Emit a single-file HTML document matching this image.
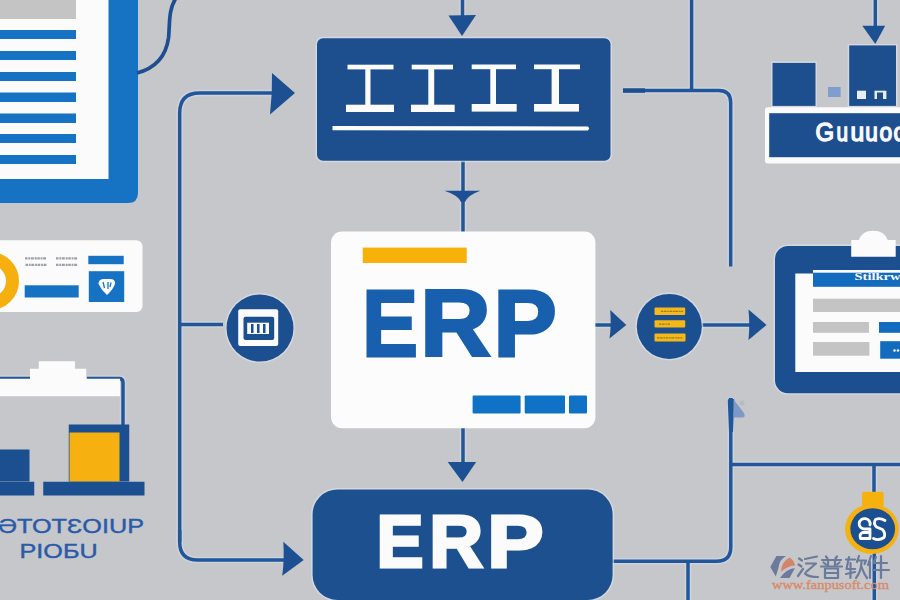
<!DOCTYPE html>
<html><head><meta charset="utf-8"><title>ERP</title>
<style>
html,body{margin:0;padding:0;width:900px;height:600px;overflow:hidden;background:#c5c7cb;}
svg{display:block;font-family:"Liberation Sans",sans-serif;}
</style></head><body>
<svg width="900" height="600" viewBox="0 0 900 600">
<rect x="0" y="0" width="900" height="600" fill="#c5c7cb"/>

<!-- ===== top-left document ===== -->
<path d="M-10,-10 H138 V193 Q138,203 128,203 H-10 Z" fill="#1673c4"/>
<rect x="-5" y="-5" width="113.5" height="184" fill="#fbfbfb"/>
<rect x="-5" y="-5" width="81" height="24" fill="#c4c4c5"/>
<g fill="#1673c4">
<rect x="-5" y="30" width="81" height="9"/>
<rect x="-5" y="51" width="81" height="9"/>
<rect x="-5" y="72" width="81" height="9"/>
<rect x="-5" y="92.5" width="81" height="9.5"/>
<rect x="-5" y="113.5" width="81" height="9.5"/>
<rect x="-5" y="134" width="81" height="9"/>
<rect x="-5" y="155" width="81" height="9"/>
</g>
<path d="M137,73 C156,68 166,56 168.5,38 C170,25 168,10 176,-2" fill="none" stroke="#1d4f90" stroke-width="3.7"/>

<!-- ===== connector lines ===== -->
<g fill="none" stroke="#d3d9e1" stroke-width="6.5" opacity="0.7">
<!-- left big loop -->
<path d="M179.7,542 V113 Q179.7,93 199.7,93 H272"/>
<path d="M179.7,530 V542 Q179.7,560 197.7,560 H285"/>
<path d="M180,324.6 H223"/>
<!-- center vertical -->
<path d="M462.5,-2 V18"/>
<path d="M463,161 V195"/>
<path d="M463,195 V232"/>
<path d="M463,428 V465"/>
<!-- right of card -->
<path d="M595,325 H612"/>
<path d="M702,325 H750"/>
<!-- right network -->
<path d="M691.6,-2 V90.5"/>
<path d="M623,90.5 H718.7 Q730.7,90.5 730.7,102.5 V266.5"/>
<path d="M875.3,-2 V27"/>
<path d="M730.8,398 V547 Q730.8,561.3 716.5,561.3 H612"/>
<path d="M731,464.5 H905"/>
<path d="M874,464 V492"/>
<path d="M688,561 V605"/>
<path d="M874.3,550 V605"/>
<!-- bottom-left white shape lines -->
<path d="M-5,378.5 H30"/>
<path d="M87,378.5 H119 Q123,378.5 123,382.5 V426"/>
</g>
<g fill="none" stroke="#21569a" stroke-width="3.5">
<!-- left big loop -->
<path d="M179.7,542 V113 Q179.7,93 199.7,93 H272"/>
<path d="M179.7,530 V542 Q179.7,560 197.7,560 H285"/>
<path d="M180,324.6 H223"/>
<!-- center vertical -->
<path d="M462.5,-2 V18"/>
<path d="M463,161 V195"/>
<path d="M463,195 V232"/>
<path d="M463,428 V465"/>
<!-- right of card -->
<path d="M595,325 H612"/>
<path d="M702,325 H750"/>
<!-- right network -->
<path d="M691.6,-2 V90.5"/>
<path d="M623,90.5 H718.7 Q730.7,90.5 730.7,102.5 V266.5"/>
<path d="M875.3,-2 V27"/>
<path d="M730.8,398 V547 Q730.8,561.3 716.5,561.3 H612"/>
<path d="M731,464.5 H905"/>
<path d="M874,464 V492"/>
<path d="M688,561 V605"/>
<path d="M874.3,550 V605"/>
<!-- bottom-left white shape lines -->
<path d="M-5,378.5 H30"/>
<path d="M87,378.5 H119 Q123,378.5 123,382.5 V426"/>
</g>
<path d="M623,88.3 H645 V92.8 H623 Z" fill="#1d4f90"/>

<!-- arrowheads -->
<g fill="#1d5092">
<path d="M272,73 L295,93 L270,114.4 Q272.5,93 272,73 Z"/>
<path d="M448.5,15.5 L476,15 L462,36 Z"/>
<path d="M444.4,190.7 L480.4,190.7 Q468,195 465,202 L461,202 Q458,195 444.4,190.7 Z"/>
<path d="M447.7,462 L476.2,462 L462.5,482 Z"/>
<path d="M283.3,541.7 L303.7,560 L282.2,575.8 Q284.5,560 283.3,541.7 Z"/>
<path d="M610.2,310 L626.3,325 L609.5,338.5 Q611.5,325 610.2,310 Z"/>
<path d="M748.5,309.4 L766.5,325 L748.5,340 Q750,325 748.5,309.4 Z"/>
<path d="M862.3,25.7 L885.2,25.7 L875.3,44 Z"/>
</g>

<!-- ===== top center box ===== -->
<rect x="317" y="38.2" width="293.5" height="122.5" rx="6" fill="#1d4f8e" stroke="#dde2e9" stroke-opacity="0.65" stroke-width="3" paint-order="stroke"/>
<g fill="#fbfbfb">
<!-- I 1 -->
<rect x="347.5" y="64.7" width="46" height="4.7"/><rect x="365.3" y="67" width="5.2" height="39"/><rect x="346" y="104.7" width="48" height="7.3"/>
<rect x="411.7" y="64.7" width="41.3" height="4.7"/><rect x="428.3" y="67" width="5.9" height="39"/><rect x="411" y="104.7" width="43.7" height="7.3"/>
<rect x="471.7" y="64.5" width="44.3" height="4.7"/><rect x="490.3" y="67" width="5.7" height="39"/><rect x="471.7" y="104" width="45" height="7.6"/>
<rect x="534" y="64.5" width="46" height="4.7"/><rect x="551.6" y="67" width="7.4" height="39"/><rect x="534" y="104" width="45" height="7.6"/>
</g>
<path d="M332.5,126 L588,126.5 Q590,128.2 588,130.5 L332.5,130.3 Z" fill="#fbfbfb"/>

<!-- ===== white ERP card ===== -->
<rect x="331" y="231.6" width="264.4" height="196.7" rx="11" fill="#fcfcfc"/>
<rect x="362.7" y="247.6" width="104" height="15.4" fill="#f8b00a"/>
<g font-size="95.4" font-weight="bold" fill="#1860ad" stroke="#1860ad" stroke-width="3">
<text transform="translate(362.2,356.3) scale(0.874,1)">E</text>
<text transform="translate(420.2,356.3) scale(1.022,1)">R</text>
<text transform="translate(493.4,356.3) scale(0.993,1)">P</text>
</g>
<g fill="#0f72c6">
<rect x="472.6" y="395.4" width="48" height="18.2" rx="1"/>
<rect x="524.7" y="395.4" width="40.3" height="18.2" rx="1"/>
<rect x="569" y="395.4" width="18" height="18.2" rx="1"/>
</g>

<!-- ===== bottom ERP button ===== -->
<rect x="312.6" y="489.4" width="300" height="110.6" rx="25" fill="#1d508f" stroke="#dde2e9" stroke-opacity="0.65" stroke-width="3" paint-order="stroke"/>
<g font-size="73.9" font-weight="bold" fill="#fbfbfb" stroke="#fbfbfb" stroke-width="3">
<text transform="translate(376.5,566.5) scale(0.955,1)">E</text>
<text transform="translate(429.3,566.5) scale(1.009,1)">R</text>
<text transform="translate(487.3,566.5) scale(1.142,1)">P</text>
</g>

<!-- ===== left circle icon ===== -->
<circle cx="260" cy="328" r="33.5" fill="#1c4f90" stroke="#dde2e9" stroke-opacity="0.65" stroke-width="3" paint-order="stroke"/>
<rect x="238.2" y="309.2" width="40" height="36.8" rx="2" fill="#fbfbfb"/>
<rect x="243.5" y="316.7" width="30.7" height="23.3" rx="2" fill="#1c4f90"/>
<rect x="247.2" y="322.7" width="21.8" height="11.3" fill="#fbfbfb"/>
<g fill="#1c4f90"><rect x="251" y="324" width="2.5" height="9"/><rect x="257" y="324" width="2.5" height="9"/><rect x="263" y="324" width="2.5" height="9"/></g>

<!-- ===== yellow bars circle ===== -->
<circle cx="669.3" cy="326.4" r="32.5" fill="#1c4f90" stroke="#dde2e9" stroke-opacity="0.65" stroke-width="3" paint-order="stroke"/>
<g fill="#f4b81a">
<rect x="654.5" y="307.5" width="30.7" height="7.5" rx="1"/>
<rect x="654.5" y="320.2" width="30.7" height="7.2" rx="1"/>
<rect x="654.5" y="333.5" width="31" height="8" rx="1"/>
</g>
<g stroke="#5a4a22" stroke-width="1.2" opacity="0.55" stroke-dasharray="2 0.6 3 0.8 1.5 0.6 2.5 0.7">
<path d="M661,311.3 H683"/><path d="M659,324.2 H670"/><path d="M657,337.8 H683"/>
</g>

<!-- ===== top-right buildings ===== -->
<rect x="772.5" y="62.9" width="43" height="43" fill="#1d4f8e" stroke="#dde2e9" stroke-opacity="0.65" stroke-width="3" paint-order="stroke"/>
<rect x="828" y="87" width="12.6" height="10" fill="#7f9ed0"/>
<rect x="849.2" y="45.4" width="46.8" height="60.5" fill="#1d4f8e" stroke="#dde2e9" stroke-opacity="0.65" stroke-width="3" paint-order="stroke"/>
<rect x="857" y="90.7" width="9" height="8.3" fill="#e8eef5"/>
<rect x="874.5" y="90.7" width="11.9" height="8.3" fill="#e8eef5"/>
<rect x="877" y="92.5" width="6" height="6.5" fill="#1d4f8e"/>
<rect x="765" y="107.3" width="145" height="56.3" rx="3" fill="#fbfbfb"/>
<rect x="769.2" y="113.2" width="140" height="44" fill="#1d4f8e"/>
<g font-size="26" fill="#fbfbfb" stroke="#fbfbfb" stroke-width="1.4">
<text transform="translate(815.5,141) scale(0.92,1)">G</text>
<text transform="translate(836.6,141) scale(0.8,1)">u</text>
<text transform="translate(850.6,141) scale(0.95,1)">u</text>
<text transform="translate(865.2,141) scale(0.87,1)">u</text>
<text transform="translate(879.4,141) scale(0.88,1)">o</text>
<text transform="translate(893.6,141) scale(0.9,1)">c</text>
</g>

<!-- ===== clipboard ===== -->
<rect x="775" y="246" width="145" height="147.3" rx="13" fill="#1c4f90" stroke="#dde2e9" stroke-opacity="0.65" stroke-width="3" paint-order="stroke"/>
<rect x="795.3" y="273.5" width="120" height="98.5" fill="#fbfbfb"/>
<rect x="813" y="270" width="90" height="3" fill="#fbfbfb"/>
<rect x="813" y="272.7" width="90" height="14.1" fill="#126bbd"/>
<text x="854.5" y="280" font-size="10.5" font-family="Liberation Serif" font-weight="bold" fill="#fbfbfb" textLength="46" lengthAdjust="spacingAndGlyphs">Stilkrw</text>
<rect x="813" y="298.7" width="90" height="13.3" fill="#c4c4c5"/>
<rect x="813" y="322" width="56" height="10.8" fill="#c4c4c5"/>
<rect x="813" y="342" width="56.4" height="13.7" fill="#c4c4c5"/>
<rect x="879" y="322" width="25" height="10.8" fill="#126bbd"/>
<rect x="880.2" y="341.2" width="25" height="17.5" fill="#126bbd"/>
<circle cx="894.5" cy="350.5" r="1.3" fill="#fbfbfb"/><circle cx="898" cy="350.5" r="1.3" fill="#fbfbfb"/>
<path d="M851.2,240 H858.8 Q862,230.8 873,230.8 Q884.5,230.8 887.7,240 H895.7 V256.8 H851.2 Z" fill="#fbfbfb"/>

<!-- ===== left white card ===== -->
<rect x="-10" y="240.3" width="152.5" height="71.7" rx="6" fill="#fbfbfb"/>
<circle cx="-10" cy="281" r="22.5" fill="none" stroke="#f5b010" stroke-width="13"/>
<rect x="24.7" y="285.3" width="54" height="12.2" fill="#1673c4"/>
<rect x="88.3" y="255.8" width="35.4" height="8.4" fill="#1673c4"/>
<rect x="88.8" y="271.2" width="35.4" height="30.8" fill="#1673c4"/>
<path d="M98.5,284 Q98.5,279 104,279 H110 Q115.5,279 115,284 Q113,289.5 107,295 Q101,289.5 98.5,284 Z" fill="#fbfbfb"/>
<path d="M103,282 L104.5,288 M108,282 V289 M111,282.5 L110,287" stroke="#1673c4" stroke-width="1.3" fill="none"/>
<g stroke="#9da0a6" stroke-width="2.2" fill="none" stroke-dasharray="2.5 0.8 1.8 0.7 3 0.9 2 0.6">
<path d="M25,258.3 H46"/><path d="M25.5,264.8 H46.5"/>
<path d="M56,258.3 H78"/><path d="M56,264.8 H78"/>
</g>

<!-- ===== bottom-left factory ===== -->
<path d="M-5,378.75 H30 V368.75 H38.75 V361.25 H75 V368.75 H86.25 V378.75 H120 V396.25 H-5 Z" fill="#fbfbfb"/>
<rect x="68.75" y="424.5" width="60.5" height="57" fill="#1c4f90"/>
<rect x="69.5" y="432.5" width="50" height="49" fill="#f6b111"/>
<rect x="-5" y="449.5" width="34.5" height="32" fill="#1c4f90"/>
<rect x="-5" y="481.75" width="39.25" height="13.75" fill="#1c4f90"/>
<rect x="43.25" y="481.75" width="101.25" height="13.75" fill="#1c4f90"/>
<text x="-2" y="533.4" font-size="21" fill="#2a5aa8" stroke="#2a5aa8" stroke-width="0.4" textLength="146" lengthAdjust="spacingAndGlyphs">ƏTOTƐOIUP</text>
<text x="19.6" y="558.3" font-size="20" fill="#2a5aa8" stroke="#2a5aa8" stroke-width="0.4" textLength="78" lengthAdjust="spacingAndGlyphs">PIOБU</text>

<!-- flag -->
<path d="M727.8,401 Q728,397.5 731.5,398 L734.3,399.5 L733,432 H729 Z" fill="#21569a"/>
<path d="M733.5,399.5 L744,413 Q746,417.5 742,417.5 H733.5 Z" fill="#7f98c6"/>
<circle cx="742" cy="403" r="2.5" fill="#b5bcc8"/>

<!-- ===== yellow ornament ===== -->
<rect x="862" y="491.8" width="21.6" height="16" rx="2" fill="#f5b20f"/>
<ellipse cx="871.9" cy="529" rx="26.9" ry="25" fill="#f5b20f"/>
<ellipse cx="872.7" cy="528.8" rx="22.4" ry="20.5" fill="#1c4f90"/>
<g fill="none" stroke="#fbfbfb" stroke-width="2.8" stroke-linecap="round" stroke-linejoin="round">
<path d="M870,525 A5.5,5.2 0 1 0 864.5,529 H870 V538.5 H860.5 Q859,534 862.5,532.5 H868"/>
<path d="M885,520.5 Q880,517.5 875.5,519.5 Q873,523.5 876.5,527 L882.5,529.5 Q886,533.5 884,537.5 Q879,541 873.5,538.5"/>
</g>

<!-- ===== watermark ===== -->
<path d="M770.3,567 L776.4,556.1 H786 Q779,560 778.5,568 L775.8,576.5 Z" fill="#6c7b9c"/>
<path d="M781,572 Q781,562 789.5,557.5 Q794,560 795,565.5 Q787,566 781,572 Z" fill="#d48468"/>
<path d="M780,578 Q786,569 795,568 L789.5,578 Z" fill="#6c7b9c"/>
<g fill="none" stroke="#6c7b9c" stroke-width="2.2" stroke-linecap="round" stroke-linejoin="round">
<path d="M799,558.5 L802,560.5"/><path d="M798.5,564.5 L801.5,566.5"/><path d="M798,576 L803,569"/>
<path d="M805,559 L817,556.5"/><path d="M806,563.5 H816 L806,572"/><path d="M805,573.5 Q808,577 818,577"/>
<path d="M826,556.5 L827.5,558.5"/><path d="M837,556.5 L835.5,558.5"/><path d="M822,560 H841"/><path d="M828,560 V566"/><path d="M835,560 V566"/><path d="M823.5,562.5 L826,564.5"/><path d="M839.5,562.5 L837,564.5"/><path d="M821,566.5 H842"/>
<path d="M825,568.5 H838 V578 H825 Z"/><path d="M825,573 H838"/>
<path d="M846,559.5 H855"/><path d="M849,557 L846.5,569 H855"/><path d="M850.5,563 V578"/><path d="M846,574 L855,572"/>
<path d="M859,556 L857,562"/><path d="M857.5,560.5 H866 L864.5,564"/><path d="M861.5,562 Q861,572 856,578"/><path d="M861.5,567 Q864,574 867,578"/>
<path d="M871,556 L868,565"/><path d="M870,562 V578"/><path d="M876,557 L874,562"/><path d="M874,563 H887"/><path d="M873,570 H889"/><path d="M881,556 V578"/>
</g>
<text x="772" y="588.5" font-size="13" fill="#d98a6a" stroke="#d98a6a" stroke-width="0.35" font-family="Liberation Serif" textLength="117" lengthAdjust="spacingAndGlyphs">www.fanpusoft.com</text>
</svg>
</body></html>
